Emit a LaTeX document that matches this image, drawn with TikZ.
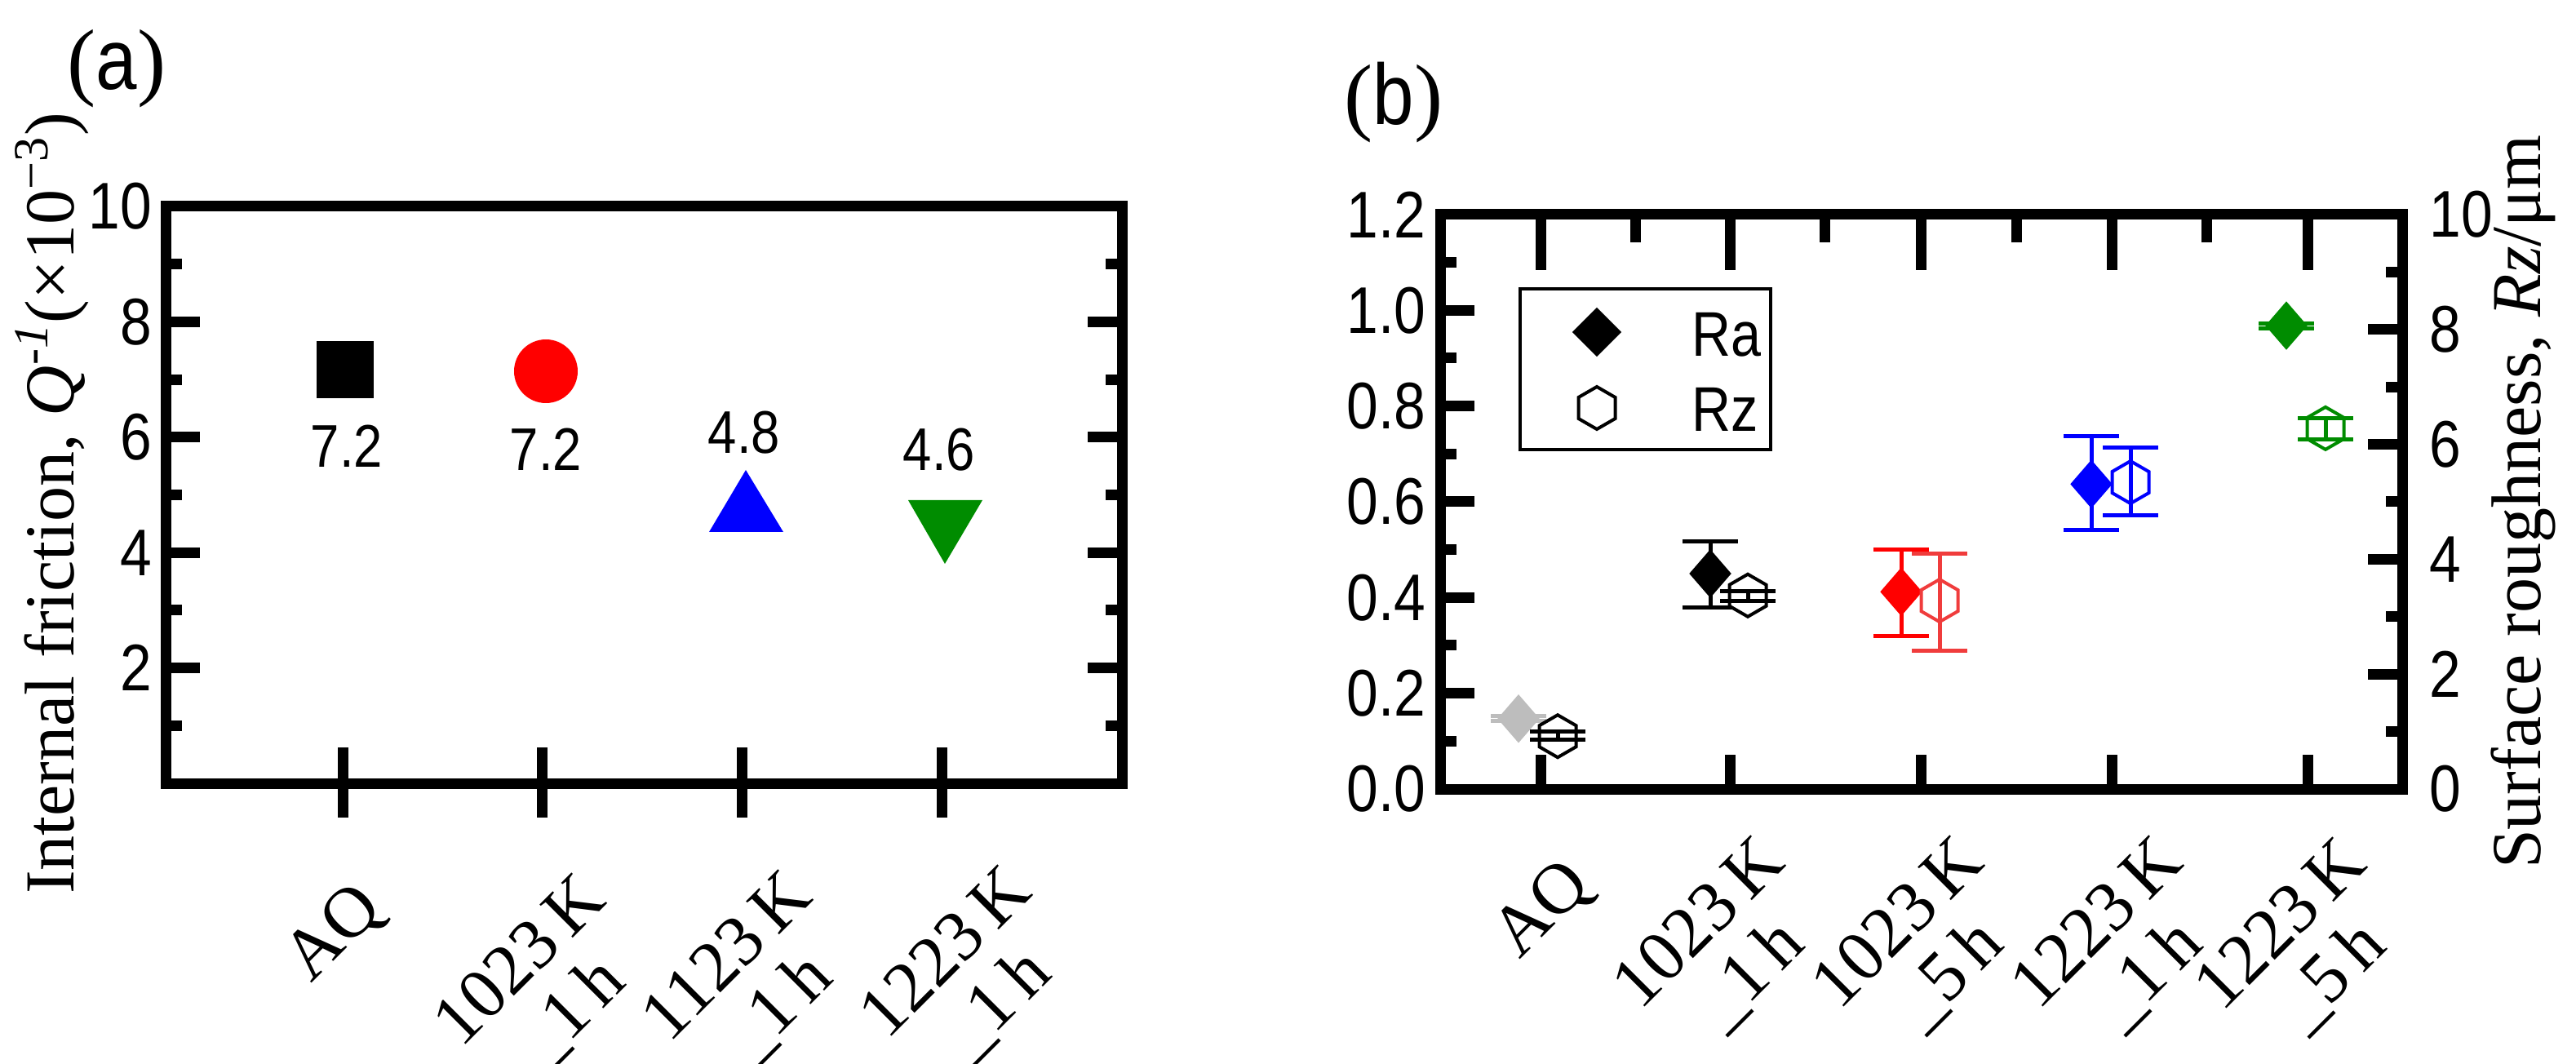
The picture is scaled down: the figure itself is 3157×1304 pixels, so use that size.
\documentclass[tikz,border=0pt]{standalone}
\usepackage{fontspec}
\setmainfont{Liberation Serif}
\newfontfamily\ticksf[FakeStretch=0.86]{Liberation Sans}
\usetikzlibrary{shapes.geometric}
\definecolor{mygreen}{HTML}{008C00}
\definecolor{mygray}{HTML}{BDBDBD}
\definecolor{myred}{HTML}{F03C3C}
\tikzset{
  axis/.style={line width=1.3mm},
  tick/.style={line width=1.3mm},
  ticklab/.style={font=\ticksf\fontsize{23}{26}\selectfont,inner sep=0pt},
  vallab/.style={font=\ticksf\fontsize{21}{24}\selectfont,inner sep=0pt},
  catlab/.style={font=\fontsize{25}{25}\selectfont,rotate=45,anchor=north east,align=center,inner sep=0pt},
  axlab/.style={font=\fontsize{24.5}{28}\selectfont,rotate=90},
  title/.style={font=\fontsize{30}{34}\selectfont},
  errbar/.style={line width=0.5mm},
  ra/.style={diamond,fill,inner sep=0pt,minimum width=5.2mm,minimum height=6mm},
  rz/.style={regular polygon,regular polygon sides=6,shape border rotate=30,draw,line width=0.4mm,fill=white,inner sep=0pt,minimum size=5.2mm}
}
\begin{document}
\begin{tikzpicture}[x=0.1mm,y=-0.1mm]
\useasboundingbox (0,0) rectangle (3157,1304);
% ---- panel (a)
\draw[axis] (203,253) rectangle (1375,960);
\foreach \v in {1,...,9}{
  \pgfmathsetmacro{\yy}{960-70.7*\v}
  \pgfmathsetmacro{\len}{isodd(\v) ? 20 : 42}
  \draw[tick] (203,\yy) -- ++(\len,0);
  \draw[tick] (1375,\yy) -- ++(-\len,0);
}
\foreach \v in {2,4,...,10}
  \node[ticklab,anchor=east] (aL\v) at (187,{960-70.7*\v}) {\v};
\foreach \xx in {420,664,909,1154}
  \draw[tick] (\xx,916) -- (\xx,1002);
\node[catlab] (aAQ) at (430,1074) {AQ};
\node[catlab] (a1023) at (704,1064) {1023\,K\\\_1\,h};
\node[catlab] (a1123) at (957,1060) {1123\,K\\\_1\,h};
\node[catlab] (a1223) at (1226,1054) {1223\,K\\\_1\,h};
\node[axlab] (aY) at (64,617) {Internal friction, \textit{Q}\textsuperscript{\textit{-1}}(×10\textsuperscript{−3})};
\node[title] (aT) at (143,84) {({\ticksf a})};
% markers
\node[fill=black,inner sep=0pt,minimum size=7mm] (aQ) at (423,453) {};
\node[circle,fill=red,inner sep=0pt,minimum size=7.8mm] (a1) at (669,455) {};
\fill[blue] (869,652) -- (960,652) -- (914,576) -- cycle;
\fill[mygreen] (1113,613) -- (1204,613) -- (1158,691) -- cycle;
\node[vallab] (v0) at (425,547) {7.2};
\node[vallab] (v1) at (669,551) {7.2};
\node[vallab] (v2) at (912,530) {4.8};
\node[vallab] (v3) at (1151,551) {4.6};
% ---- panel (b)
\draw[axis] (1765,263) rectangle (2944,967);
\foreach \v in {1,...,11}{
  \pgfmathsetmacro{\yy}{967-58.67*\v}
  \pgfmathsetmacro{\len}{isodd(\v) ? 20 : 42}
  \draw[tick] (1765,\yy) -- ++(\len,0);
}
\foreach \v/\t in {0/0.0,2/0.2,4/0.4,6/0.6,8/0.8,10/1.0,12/1.2}
  \node[ticklab,anchor=east] (bL\v) at (1748,{967-58.67*\v}) {\t};
\foreach \v in {1,...,9}{
  \pgfmathsetmacro{\yy}{967-70.4*\v}
  \pgfmathsetmacro{\len}{isodd(\v) ? 20 : 42}
  \draw[tick] (2944,\yy) -- ++(-\len,0);
}
\foreach \v in {0,2,...,10}
  \node[ticklab,anchor=west] (bR\v) at (2977,{967-70.4*\v}) {\v};
\foreach \xx in {1888,2120,2354,2588,2828}{
  \draw[tick] (\xx,263) -- ++(0,68);
  \draw[tick] (\xx,967) -- ++(0,-42);
}
\foreach \xx in {2004,2236,2471,2704}
  \draw[tick] (\xx,263) -- ++(0,34);
\node[catlab] (bAQ) at (1911,1045) {AQ};
\node[catlab] (b1) at (2149,1018) {1023\,K\\\_1\,h};
\node[catlab] (b2) at (2393,1018) {1023\,K\\\_5\,h};
\node[catlab] (b3) at (2637,1018) {1223\,K\\\_1\,h};
\node[catlab] (b4) at (2862,1020) {1223\,K\\\_5\,h};
\node[axlab] (bY) at (3092,615) {Surface roughness, \textit{Rz}/μm};
\node[title] (bT) at (1708,126) {({\ticksf b})};
% legend
\draw[line width=0.4mm] (1863,354) rectangle (2170,551);
\node[ra,minimum width=6.1mm,minimum height=6.1mm] (lRa) at (1957,407) {};
\node[ticklab,font=\ticksf\fontsize{22}{24}\selectfont,anchor=west] (tRa) at (2073,410) {Ra};
\node[rz] (lRz) at (1957,500) {};
\node[ticklab,font=\ticksf\fontsize{22}{24}\selectfont,anchor=west] (tRz) at (2073,502) {Rz};
% Ra data: x, value, low, high, colour
\foreach \xx/\v/\lo/\hi/\c in {1861/0.147/0.142/0.152/mygray,2096/0.45/0.38/0.518/black,2330/0.412/0.32/0.50/red,2563/0.637/0.542/0.738/blue,2802/0.968/0.963/0.973/mygreen}{
  \draw[errbar,\c] (\xx,{967-586.7*\lo}) -- (\xx,{967-586.7*\hi});
  \draw[errbar,\c] (\xx-34,{967-586.7*\lo}) -- ++(68,0);
  \draw[errbar,\c] (\xx-34,{967-586.7*\hi}) -- ++(68,0);
  \node[ra,\c] at (\xx,{967-586.7*\v}) {};
}
% Rz data
\foreach \xx/\v/\lo/\hi/\c in {1909/0.92/0.86/1.0/black,2142/3.37/3.28/3.45/black,2377/3.28/2.41/4.1/myred,2611/5.34/4.77/5.94/blue,2850/6.28/6.09/6.46/mygreen}{
  \node[rz,draw=\c] at (\xx,{967-70.4*\v}) {};
  \draw[errbar,\c] (\xx,{967-70.4*\lo}) -- (\xx,{967-70.4*\hi});
  \draw[errbar,\c] (\xx-34,{967-70.4*\lo}) -- ++(68,0);
  \draw[errbar,\c] (\xx-34,{967-70.4*\hi}) -- ++(68,0);
}
\end{tikzpicture}
\end{document}
